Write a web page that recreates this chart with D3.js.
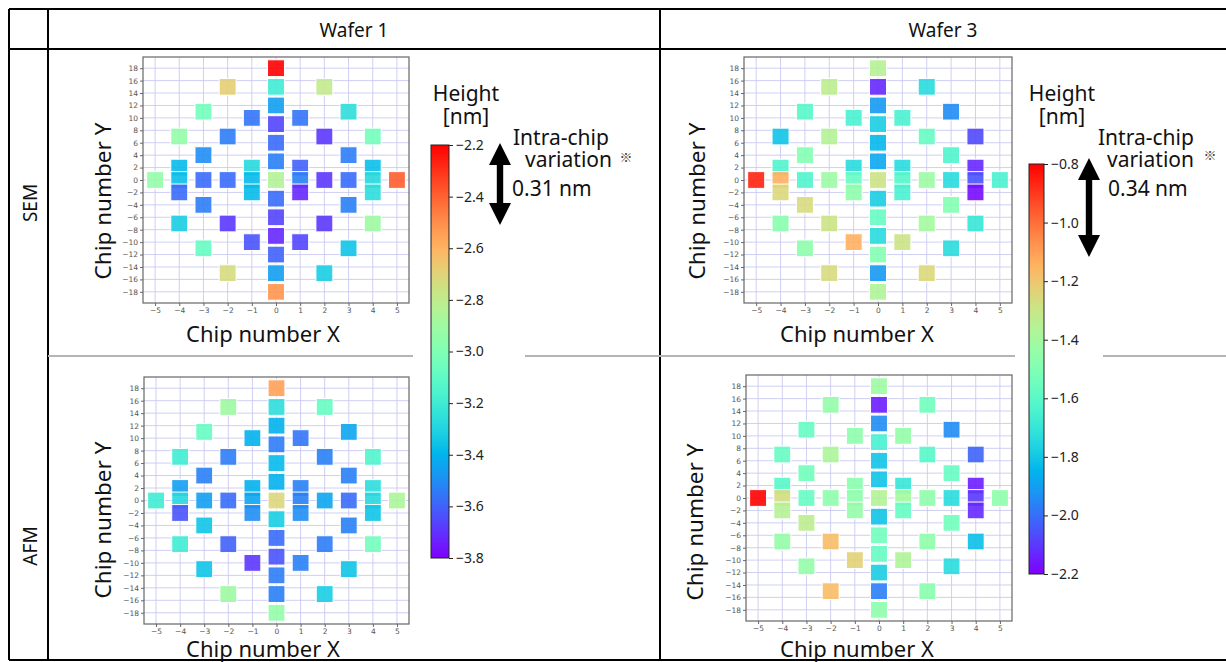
<!DOCTYPE html>
<html lang="en">
<head>
<meta charset="UTF-8">
<title>Wafer height maps</title>
<script src="https://d3js.org/d3.v7.min.js"></script>
<style>
    body { margin: 0; background: #fff; }
    svg { display: block; }
</style>
</head>
<body>
<div id="chart"></div>
<script>
    // chip layout (same for every map), listed column by column, top to bottom
    var chipX = [-5,
        -4, -4, -4, -4, -4,
        -3, -3, -3, -3, -3,
        -2, -2, -2, -2, -2,
        -1, -1, -1, -1, -1,
        0, 0, 0, 0, 0, 0, 0, 0, 0, 0, 0, 0, 0,
        1, 1, 1, 1, 1,
        2, 2, 2, 2, 2,
        3, 3, 3, 3, 3,
        4, 4, 4, 4, 4,
        5];
    var chipY = [0,
        7, 2, 0, -2, -7,
        11, 4, 0, -4, -11,
        15, 7, 0, -7, -15,
        10, 2, 0, -2, -10,
        18, 15, 12, 9, 6, 3, 0, -3, -6, -9, -12, -15, -18,
        10, 2, 0, -2, -10,
        15, 7, 0, -7, -15,
        11, 4, 0, -4, -11,
        7, 2, 0, -2, -7,
        0];

    // heights [nm], same order as chipX / chipY
    var semWafer1 = [-2.94,
        -2.94, -3.38, -3.37, -3.58, -3.32,
        -3.04, -3.50, -3.58, -3.54, -3.08,
        -2.68, -3.54, -3.58, -3.69, -2.73,
        -3.56, -3.28, -3.38, -3.38, -3.63,
        -2.20, -3.20, -3.46, -3.66, -3.58, -3.53, -2.84, -3.58, -3.66, -3.72, -3.60, -3.46, -2.52,
        -3.56, -3.60, -3.53, -3.72, -3.66,
        -2.79, -3.69, -3.69, -3.69, -3.32,
        -3.26, -3.54, -3.58, -3.53, -3.35,
        -3.04, -3.37, -3.28, -3.26, -2.90,
        -2.39];
    var afmWafer1 = [-3.20,
        -3.20, -3.46, -3.28, -3.63, -3.20,
        -3.08, -3.53, -3.46, -3.35, -3.35,
        -2.90, -3.54, -3.58, -3.60, -2.90,
        -3.41, -3.41, -3.44, -3.50, -3.69,
        -2.55, -3.26, -3.41, -3.54, -3.38, -3.41, -2.71, -3.32, -3.58, -3.63, -3.54, -3.53, -2.94,
        -3.56, -3.53, -3.53, -3.50, -3.53,
        -3.08, -3.53, -3.44, -3.54, -3.32,
        -3.44, -3.53, -3.58, -3.53, -3.35,
        -3.15, -3.26, -3.28, -3.35, -3.04,
        -2.86];
    var semWafer3 = [-0.86,
        -1.81, -1.63, -1.14, -1.25, -1.47,
        -1.61, -1.49, -1.63, -1.26, -1.46,
        -1.33, -1.36, -1.42, -1.29, -1.26,
        -1.65, -1.74, -1.57, -1.46, -1.14,
        -1.35, -2.13, -1.91, -1.78, -1.84, -1.88, -1.29, -1.78, -1.57, -1.74, -1.49, -1.91, -1.37,
        -1.65, -1.74, -1.61, -1.65, -1.29,
        -1.74, -1.57, -1.42, -1.40, -1.25,
        -1.94, -1.63, -1.74, -1.49, -1.74,
        -2.07, -2.13, -2.05, -2.18, -1.70,
        -1.65];
    var afmWafer3 = [-0.80,
        -1.57, -1.61, -1.27, -1.35, -1.44,
        -1.57, -1.54, -1.57, -1.33, -1.44,
        -1.44, -1.38, -1.46, -1.17, -1.17,
        -1.46, -1.47, -1.46, -1.44, -1.23,
        -1.42, -2.15, -1.94, -1.65, -1.81, -1.81, -1.36, -1.81, -1.54, -1.57, -1.78, -1.97, -1.46,
        -1.44, -1.70, -1.40, -1.57, -1.37,
        -1.54, -1.61, -1.46, -1.46, -1.47,
        -1.94, -1.57, -1.74, -1.54, -1.74,
        -2.02, -2.15, -2.10, -2.13, -1.82,
        -1.46];

    var xTicks = d3.range(-5, 6, 1);
    var yTicks = d3.range(-18, 19, 2);
    var wafer1Range = [-3.8, -2.2];
    var wafer3Range = [-2.2, -0.8];
    var wafer1BarTicks = d3.range(-3.8, -2.19, 0.2);
    var wafer3BarTicks = d3.range(-2.2, -0.79, 0.2);
    var variation = ["0.31 nm", "0.34 nm"];

    var w = 1226, h = 662;
    var bigFont = "'Noto Sans', 'DejaVu Sans', sans-serif";

    var svg = d3.select("#chart")
        .append("svg")
        .attr("width", w)
        .attr("height", h)
        .style("background", "#fff");

    // matplotlib "rainbow" colormap
    function rainbow(t) {
        var r = Math.min(1, Math.abs(2 * t - 0.5));
        var g = Math.sin(Math.PI * t);
        var b = Math.cos(Math.PI * t / 2);
        return d3.rgb(r * 255, g * 255, b * 255).toString();
    }

    // ----- table frame -----
    var grid = svg.append("g");
    grid.append("line").attr("x1", 9).attr("x2", w).attr("y1", 9).attr("y2", 9);
    grid.append("line").attr("x1", 9).attr("x2", w).attr("y1", 49).attr("y2", 49);
    grid.append("line").attr("x1", 9).attr("x2", w).attr("y1", 660).attr("y2", 660);
    grid.append("line").attr("x1", 9).attr("x2", 9).attr("y1", 9).attr("y2", 660);
    grid.append("line").attr("x1", 48).attr("x2", 48).attr("y1", 9).attr("y2", 660);
    grid.append("line").attr("x1", 660).attr("x2", 660).attr("y1", 9).attr("y2", 660);
    grid.selectAll("line").attr("stroke", "#000").attr("stroke-width", 2);

    // row separator (partly hidden behind colour bars)
    [[48, 413], [525, 1015], [1103, w]].forEach(function (s) {
        svg.append("line")
            .attr("x1", s[0]).attr("x2", s[1])
            .attr("y1", 356).attr("y2", 356)
            .attr("stroke", "#b4b4b4").attr("stroke-width", 2);
    });

    svg.append("text").attr("x", 354).attr("y", 30).text("Wafer 1");
    svg.append("text").attr("x", 943).attr("y", 30).text("Wafer 3");
    svg.append("text").attr("transform", "translate(30,203) rotate(-90)").text("SEM");
    svg.append("text").attr("transform", "translate(30,546) rotate(-90)").text("AFM");
    svg.selectAll("text")
        .attr("text-anchor", "middle")
        .attr("dominant-baseline", "central")
        .style("font-family", bigFont)
        .style("font-size", "19px")
        .attr("fill", "#111");

    // ----- maps -----
    var maps = [
        {vals: semWafer1, range: wafer1Range, box: [143, 57, 409, 303], ylab: [102, 201], xlab: [263, 333]},
        {vals: afmWafer1, range: wafer1Range, box: [144, 377, 409, 624], ylab: [102, 520], xlab: [263, 648]},
        {vals: semWafer3, range: wafer3Range, box: [744, 57, 1012, 303], ylab: [696, 201], xlab: [857, 333]},
        {vals: afmWafer3, range: wafer3Range, box: [746, 375, 1012, 621], ylab: [694, 522], xlab: [857, 648]}
    ];

    maps.forEach(function (m) {
        var xs = d3.scaleLinear().domain([-5.5, 5.5]).range([m.box[0], m.box[2]]);
        var ys = d3.scaleLinear().domain([-19.8, 19.8]).range([m.box[3], m.box[1]]);
        var color = d3.scaleSequential(rainbow).domain(m.range);
        var g = svg.append("g");

        g.selectAll(".vgrid").data(xTicks).enter().append("line")
            .attr("x1", d => xs(d)).attr("x2", d => xs(d))
            .attr("y1", m.box[1]).attr("y2", m.box[3])
            .attr("stroke", "#cacaf2").attr("stroke-width", 0.9);
        g.selectAll(".hgrid").data(yTicks).enter().append("line")
            .attr("x1", m.box[0]).attr("x2", m.box[2])
            .attr("y1", d => ys(d)).attr("y2", d => ys(d))
            .attr("stroke", "#cacaf2").attr("stroke-width", 0.9);

        var cw = xs(0.35) - xs(-0.35);
        var ch = ys(-1.35) - ys(1.35);
        g.selectAll(".chip").data(m.vals).enter().append("rect")
            .attr("x", (d, i) => xs(chipX[i]) - cw / 2)
            .attr("y", (d, i) => ys(chipY[i]) - ch / 2)
            .attr("width", cw)
            .attr("height", ch)
            .attr("fill", d => color(d))
            .attr("fill-opacity", 0.9)
            .attr("stroke", "#fff")
            .attr("stroke-width", 1);

        g.append("rect")
            .attr("x", m.box[0]).attr("y", m.box[1])
            .attr("width", m.box[2] - m.box[0]).attr("height", m.box[3] - m.box[1])
            .attr("fill", "none").attr("stroke", "#666").attr("stroke-width", 1.2);

        var ax = g.append("g")
            .attr("transform", "translate(0," + m.box[3] + ")")
            .call(d3.axisBottom(xs).tickValues(xTicks).tickSize(3).tickPadding(2));
        var ay = g.append("g")
            .attr("transform", "translate(" + m.box[0] + ",0)")
            .call(d3.axisLeft(ys).tickValues(yTicks).tickSize(3).tickPadding(2));
        [ax, ay].forEach(function (a) {
            a.select(".domain").remove();
            a.selectAll("line").attr("stroke", "#666");
            a.selectAll("text").attr("fill", "#555")
                .style("font-family", "'DejaVu Sans', sans-serif")
                .style("font-size", "7.5px");
        });

        g.append("text")
            .attr("x", m.xlab[0]).attr("y", m.xlab[1])
            .attr("text-anchor", "middle").attr("dominant-baseline", "central")
            .style("font-family", bigFont).style("font-size", "22px")
            .attr("fill", "#111")
            .text("Chip number X");
        g.append("text")
            .attr("transform", "translate(" + m.ylab[0] + "," + m.ylab[1] + ") rotate(-90)")
            .attr("text-anchor", "middle").attr("dominant-baseline", "central")
            .style("font-family", bigFont).style("font-size", "22.5px")
            .attr("fill", "#111")
            .text("Chip number Y");
    });

    // ----- colour bars -----
    var bars = [
        {range: wafer1Range, ticks: wafer1BarTicks, x: 431, wd: 18, y0: 145, y1: 558, tx: 466,
            arrow: [500, 143, 225], txt: [513, 525, 512], star: [626, 156], note: variation[0]},
        {range: wafer3Range, ticks: wafer3BarTicks, x: 1029, wd: 15, y0: 164, y1: 574, tx: 1062,
            arrow: [1089, 158, 257], txt: [1098, 1107, 1108], star: [1210, 154], note: variation[1]}
    ];

    var defs = svg.append("defs");
    bars.forEach(function (b, k) {
        var grad = defs.append("linearGradient")
            .attr("id", "cbar" + k)
            .attr("x1", 0).attr("x2", 0).attr("y1", 1).attr("y2", 0);
        d3.range(0, 1.001, 0.05).forEach(function (t) {
            grad.append("stop").attr("offset", t).attr("stop-color", rainbow(t));
        });

        var cs = d3.scaleLinear().domain(b.range).range([b.y1, b.y0]);
        svg.append("rect")
            .attr("x", b.x).attr("y", b.y0)
            .attr("width", b.wd).attr("height", b.y1 - b.y0)
            .attr("fill", "url(#cbar" + k + ")")
            .attr("stroke", "#222").attr("stroke-width", 1);

        var ca = svg.append("g")
            .attr("transform", "translate(" + (b.x + b.wd) + ",0)")
            .call(d3.axisRight(cs).tickValues(b.ticks).tickFormat(d3.format(".1f")).tickSize(4).tickPadding(3));
        ca.select(".domain").remove();
        ca.selectAll("line").attr("stroke", "#222");
        ca.selectAll("text").attr("fill", "#222")
            .style("font-family", bigFont).style("font-size", "14px");

        svg.append("text").attr("x", b.tx).attr("y", 101).text("Height");
        svg.append("text").attr("x", b.tx).attr("y", 124).text("[nm]");

        var a = b.arrow, hw = 11, hl = 22, sw = 3.2;
        svg.append("path")
            .attr("d", "M" + a[0] + "," + a[1] +
                " L" + (a[0] + hw) + "," + (a[1] + hl) +
                " L" + (a[0] + sw) + "," + (a[1] + hl) +
                " L" + (a[0] + sw) + "," + (a[2] - hl) +
                " L" + (a[0] + hw) + "," + (a[2] - hl) +
                " L" + a[0] + "," + a[2] +
                " L" + (a[0] - hw) + "," + (a[2] - hl) +
                " L" + (a[0] - sw) + "," + (a[2] - hl) +
                " L" + (a[0] - sw) + "," + (a[1] + hl) +
                " L" + (a[0] - hw) + "," + (a[1] + hl) + " Z")
            .attr("fill", "#000");

        svg.append("text").attr("x", b.txt[0]).attr("y", 145).text("Intra-chip").attr("class", "note");
        svg.append("text").attr("x", b.txt[1]).attr("y", 167).text("variation").attr("class", "note");
        svg.append("text").attr("x", b.txt[2]).attr("y", 196).text(b.note).attr("class", "note");
        svg.append("text")
            .attr("x", b.star[0]).attr("y", b.star[1])
            .attr("text-anchor", "middle").attr("dominant-baseline", "central")
            .style("font-family", "'Noto Sans CJK JP', sans-serif")
            .style("font-size", "13px")
            .attr("fill", "#444")
            .text("※");
    });

    svg.selectAll("text").filter(function () { return this.textContent === "Height" || this.textContent === "[nm]"; })
        .attr("text-anchor", "middle")
        .style("font-family", bigFont).style("font-size", "21px").attr("fill", "#111");
    svg.selectAll("text.note")
        .attr("text-anchor", "start")
        .style("font-family", bigFont).style("font-size", "21px").attr("fill", "#111");
</script>
</body>
</html>
